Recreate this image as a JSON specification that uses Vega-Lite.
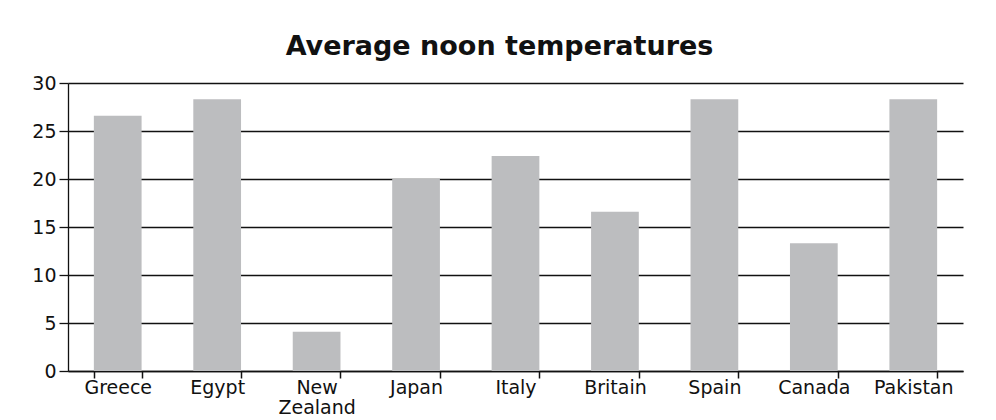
{
  "$schema": "https://vega.github.io/schema/vega-lite/v6.json",
  "autosize": "none",
  "width": 895,
  "height": 288,
  "padding": {"left": 68, "top": 83, "right": 33, "bottom": 49},
  "background": "white",
  "title": {
    "text": "Average noon temperatures",
    "font": "DejaVu Sans",
    "fontSize": 27,
    "fontWeight": "bold",
    "color": "#111111",
    "anchor": "middle",
    "dx": -16,
    "offset": 13
  },
  "data": {
    "values": [
      {"country": "Greece", "temp": 26.6},
      {"country": "Egypt", "temp": 28.3},
      {"country": "New Zealand", "temp": 4.1},
      {"country": "Japan", "temp": 20},
      {"country": "Italy", "temp": 22.4},
      {"country": "Britain", "temp": 16.6},
      {"country": "Spain", "temp": 28.3},
      {"country": "Canada", "temp": 13.3},
      {"country": "Pakistan", "temp": 28.3}
    ]
  },
  "mark": {"type": "bar", "color": "#bcbdbf"},
  "encoding": {
    "x": {
      "field": "country",
      "type": "nominal",
      "sort": null,
      "scale": {"paddingInner": 0.52, "paddingOuter": 0.26},
      "axis": {
        "title": null,
        "labelAngle": 0,
        "labelFont": "DejaVu Sans",
        "labelFontSize": 19,
        "labelColor": "#111111",
        "labelPadding": 0,
        "labelLineHeight": 20,
        "labelExpr": "datum.label == 'New Zealand' ? ['New', 'Zealand'] : datum.label",
        "ticks": true,
        "tickBand": "extent",
        "tickSize": 7,
        "tickOpacity": 1,
        "tickColor": "#111111",
        "tickWidth": 1.5,
        "domainColor": "#111111",
        "domainWidth": 1.3
      }
    },
    "y": {
      "field": "temp",
      "type": "quantitative",
      "scale": {"domain": [0, 30]},
      "axis": {
        "title": null,
        "values": [0, 5, 10, 15, 20, 25, 30],
        "labelFont": "DejaVu Sans",
        "labelFontSize": 19,
        "labelColor": "#111111",
        "labelPadding": 3,
        "tickSize": 9,
        "tickColor": "#111111",
        "tickWidth": 1.3,
        "domainColor": "#111111",
        "domainWidth": 1.3,
        "grid": true,
        "gridColor": "#111111",
        "gridWidth": 1.3
      }
    }
  },
  "config": {"view": {"stroke": null}}
}
